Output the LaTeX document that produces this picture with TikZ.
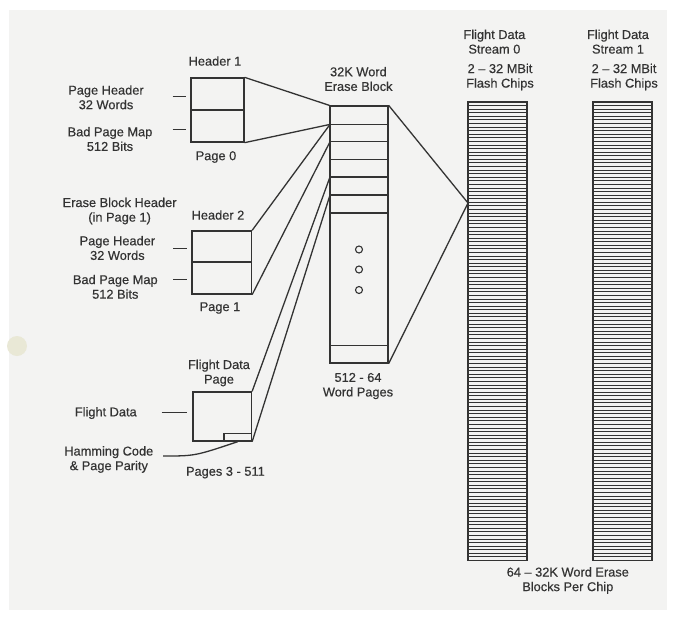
\documentclass[tikz,border=0pt]{standalone}
\usepackage{fontspec}
\setmainfont{Liberation Sans}[FakeBold=0.4]
\definecolor{ink}{HTML}{333333}
\definecolor{pagegray}{HTML}{F3F3F2}
\definecolor{holecol}{HTML}{E9E8D6}
\begin{document}
\begin{tikzpicture}[x=1pt,y=-1pt,
  ln/.style={draw=ink, line width=1.3pt},
  thinln/.style={draw=ink, line width=0.9pt},
  lbl/.style={text=ink, font=\fontsize{12.8}{14.6}\selectfont, align=center, inner sep=0pt},
  boxnode/.style={draw=ink, line width=1.3pt, inner sep=0pt}]
\useasboundingbox (0,0) rectangle (677,619);
\fill[white] (0,0) rectangle (677,619);
\fill[pagegray] (9,10) rectangle (667,610);
\fill[holecol] (17,346) circle (10pt);

% ---- labels ----
\node[lbl] (hdr1) at (215,61) {Header 1};
\node[lbl] (ph1) at (106,97.3) {Page Header\\32 Words};
\node[lbl] (bpm1) at (110,139) {Bad Page Map\\512 Bits};
\node[lbl] (pg0) at (216,157) {Page 0};
\node[lbl] (ebh) at (119.6,211) {Erase Block Header\\(in Page 1)};
\node[lbl] (hdr2) at (218,215) {Header 2};
\node[lbl] (ph2) at (117.4,248) {Page Header\\32 Words};
\node[lbl] (bpm2) at (115.3,286.8) {Bad Page Map\\512 Bits};
\node[lbl] (pg1) at (220,308) {Page 1};
\node[lbl] (fdp) at (219,373) {Flight Data\\Page};
\node[lbl] (fd) at (105.8,413) {Flight Data};
\node[lbl] (hc) at (108.8,459.5) {Hamming Code\\\& Page Parity};
\node[lbl] (p3) at (225.4,472.6) {Pages 3 - 511};
\node[lbl] (ebt) at (358.4,79) {32K Word\\Erase Block};
\node[lbl] (wp) at (358,386) {512 - 64\\Word Pages};
\node[lbl] (s0) at (494.4,41.7) {Flight Data\\Stream 0};
\node[lbl] (f0) at (500,77) {2 – 32 MBit\\Flash Chips};
\node[lbl] (s1) at (618,41.7) {Flight Data\\Stream 1};
\node[lbl] (f1) at (624,77) {2 – 32 MBit\\Flash Chips};
\node[lbl] (bpc) at (567.8,580.5) {64 – 32K Word Erase\\Blocks Per Chip};

% ---- page boxes ----
\node[boxnode, minimum width=53pt, minimum height=64pt] (b1) at (217.5,110) {};
\draw[ln] (b1.west |- 0,110) -- (b1.east |- 0,110);
\node[boxnode, minimum width=59.5pt, minimum height=63pt] (b2) at (221.75,262.5) {};
\draw[ln] (b2.west |- 0,262) -- (b2.east |- 0,262);
\node[boxnode, minimum width=58.5pt, minimum height=49pt] (b3) at (222.25,416.5) {};
\node[boxnode, minimum width=27.5pt, minimum height=7.5pt] (hb) at (237.75,437.25) {};

% ---- erase block ----
\node[boxnode, minimum width=58pt, minimum height=257pt] (eb) at (359,234.5) {};
\foreach \yy/\nm in {124.4/r1,141.8/r2,159.2/r3,176.9/r4,195/r5,213/r6,345.5/r7} {
  \coordinate (\nm) at (330,\yy);
  \draw[ln] (330,\yy) -- (388,\yy);
}
\foreach \yy/\nm in {249.5/d1,269.5/d2,290/d3} {
  \node[draw=ink, line width=1.1pt, circle, minimum size=7pt, inner sep=0pt] (\nm) at (359,\yy) {};
}

% ---- flash chips ----
\node[boxnode, minimum width=59pt, minimum height=458.5pt] (c0) at (497.5,331.25) {};
\node[boxnode, minimum width=59pt, minimum height=458.5pt] (c1) at (622.5,331.25) {};
\foreach \i in {1,...,127} {
  \pgfmathsetmacro\yy{102+\i/128*458.5}
  \draw[thinln] (468,\yy) -- (527,\yy);
  \draw[thinln] (593,\yy) -- (652,\yy);
}
\coordinate (c0in) at (468,203);

% ---- connectors ----
\draw[ln] (b1.north east) -- (eb.north west);
\draw[ln] (b1.south east) -- (r1);
\draw[ln] (b2.north east) -- (r1);
\draw[ln] (b2.south east) -- (r2);
\draw[ln] (b3.north east) -- (r4);
\draw[ln] (b3.south east) -- (r5);
\draw[ln] (eb.north east) -- (c0in);
\draw[ln] (eb.south east) -- (c0in);

% ---- label ticks ----
\coordinate (t1a) at (172.5,96.5);  \coordinate (t1b) at (186,96.5);
\coordinate (t2a) at (172.5,129.5); \coordinate (t2b) at (186,129.5);
\coordinate (t3a) at (173,248.3);   \coordinate (t3b) at (186.5,248.3);
\coordinate (t4a) at (173,279.5);   \coordinate (t4b) at (186.5,279.5);
\coordinate (t5a) at (161.5,412.7); \coordinate (t5b) at (186.5,412.7);
\draw[ln] (t1a) -- (t1b);
\draw[ln] (t2a) -- (t2b);
\draw[ln] (t3a) -- (t3b);
\draw[ln] (t4a) -- (t4b);
\draw[ln] (t5a) -- (t5b);
\coordinate (hcend) at (163,456);
\draw[ln] (hcend) .. controls (195,456) .. (hb.south);
\end{tikzpicture}
\end{document}
